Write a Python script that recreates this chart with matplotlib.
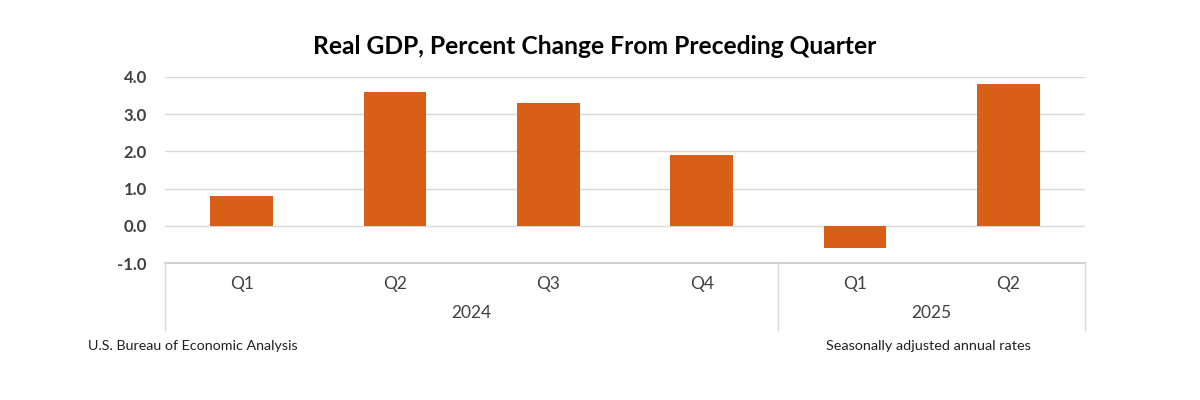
import matplotlib
matplotlib.use("Agg")
import matplotlib.pyplot as plt
from matplotlib.transforms import blended_transform_factory

quarters = ["Q1", "Q2", "Q3", "Q4", "Q1", "Q2"]
years = ["2024", "2025"]
year_counts = [4, 2]
values = [0.8, 3.6, 3.3, 1.9, -0.6, 3.8]
yticks = [-1.0, 0.0, 1.0, 2.0, 3.0, 4.0]

plt.rcParams['font.family'] = ['Lato', 'DejaVu Sans']

fig = plt.figure(figsize=(12, 4), dpi=100)
fig.patch.set_facecolor("white")
ax = fig.add_axes([165/1200, 1-263/400, 920/1200, 186/400])

x = list(range(len(values)))
ax.bar(x, values, width=0.41, color="#D95F18", zorder=3)
ax.set_xlim(-0.5, len(values) - 0.5)
ax.set_ylim(-1, 4)
ax.set_yticks(yticks)
ax.set_yticklabels([f"{v:.1f}" for v in yticks], fontsize=12, fontweight="bold", color="#404040")
ax.tick_params(axis="y", length=0, pad=13)
ax.set_xticks([])
for v in yticks[1:]:
    ax.axhline(v, color="#D9D9D9", lw=1, zorder=1)
for s in ax.spines.values():
    s.set_visible(False)
ax.axhline(-1, color="#D0D0D0", lw=1.5, zorder=2, clip_on=False)

tr = blended_transform_factory(ax.transData, ax.transAxes)
for i, q in enumerate(quarters):
    ax.text(i, -21/186, q, transform=tr, ha="center", va="center", fontsize=12.5, color="#404040")
start = 0
bounds = [-0.5]
for yr, n in zip(years, year_counts):
    mid = start + (n - 1) / 2
    ax.text(mid, -50/186, yr, transform=tr, ha="center", va="center", fontsize=12.5, color="#404040")
    start += n
    bounds.append(start - 0.5)
for b in bounds:
    ax.plot([b, b], [0, -67/186], transform=tr, color="#D9D9D9", lw=1, clip_on=False)

fig.text(595/1200, 1-47/400, "Real GDP, Percent Change From Preceding Quarter",
         ha="center", va="center", fontsize=17.7, fontweight="bold", color="#000000")
fig.text(88/1200, 1-346/400, "U.S. Bureau of Economic Analysis", ha="left", va="center",
         fontsize=10.3, color="#202020")
fig.text(826/1200, 1-346/400, "Seasonally adjusted annual rates", ha="left", va="center",
         fontsize=10.4, color="#202020")

fig.savefig("out.png", dpi=100, facecolor="white")
